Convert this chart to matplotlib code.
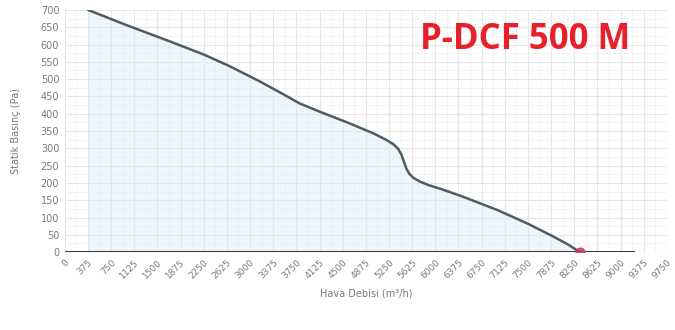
import numpy as np
import matplotlib
matplotlib.use("Agg")
import matplotlib.pyplot as plt

# Fan curve: air flow (m3/h) vs static pressure (Pa)
flow = [375, 1000, 1700, 2250, 2650, 3150, 3500, 3800, 4125, 4600, 5000,
        5200, 5320, 5400, 5450, 5490, 5530, 5580, 5650, 5750, 5900, 6100,
        6450, 7000, 7500, 7900, 8150, 8340]
pressure = [700, 656, 609, 571, 539, 494, 460, 430, 406, 373, 343,
            325, 312, 298, 282, 262, 242, 226, 214, 204, 193, 182,
            160, 122, 82, 46, 22, 0]

base_flow = [0, 9200]
base_pressure = [0, 0]

op_flow = [8340]
op_pressure = [0]

xticks = list(range(0, 9751, 375))
yticks = list(range(0, 701, 50))

title = "P-DCF 500 M"
xlabel = "Hava Debisi (m\u00b3/h)"
ylabel = "Statik Basınç (Pa)"

fig = plt.figure(figsize=(6.75, 3.3), dpi=100)
ax = fig.add_axes([0.096, 0.236, 0.892, 0.734])

ax.fill_between(flow, pressure, 0, color="#dcecf7", alpha=0.45, lw=0)
ax.plot(flow, pressure, color="#4b5d66", lw=1.8, solid_capstyle="round",
        solid_joinstyle="round")
ax.plot(base_flow, base_pressure, color="#3a3a3a", lw=2.2, zorder=3)
ax.scatter(op_flow, op_pressure, s=40, color="#c8376a", alpha=0.85, zorder=4)

ax.set_xlim(0, 9750)
ax.set_ylim(0, 700)
ax.set_xticks(xticks)
ax.set_xticklabels([str(v) for v in xticks], rotation=45, ha="right",
                   rotation_mode="anchor", fontsize=6.5, color="#7a7a7a")
ax.set_yticks(yticks)
ax.set_yticklabels([str(v) for v in yticks], fontsize=7, color="#7a7a7a")
ax.set_xticks(np.arange(0, 9751, 187.5), minor=True)
ax.set_yticks(np.arange(0, 701, 25), minor=True)
ax.grid(which="major", color="#e6e6e6", lw=0.8)
ax.grid(which="minor", color="#f2f2f2", lw=0.6)
ax.set_axisbelow(True)
ax.tick_params(which="both", length=0, pad=4)
for s in ax.spines.values():
    s.set_visible(False)

ax.set_xlabel(xlabel, fontsize=7, color="#7a7a7a", labelpad=6)
ax.set_ylabel(ylabel, fontsize=7, color="#7a7a7a", labelpad=14)

fig.text(0.778, 0.878, title, fontsize=25, fontweight="bold",
         color="#e8202a", family=["Open Sans", "DejaVu Sans"],
         ha="center", va="center")

fig.savefig("out.png", dpi=100)
